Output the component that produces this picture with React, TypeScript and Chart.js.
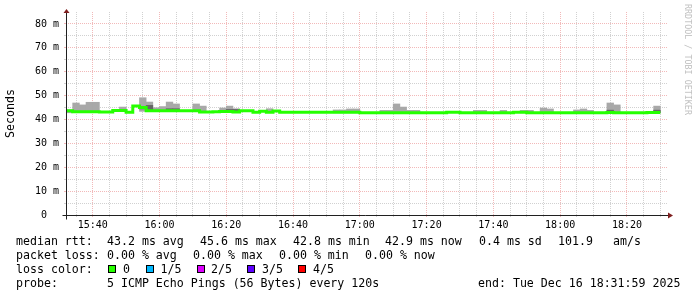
import React, { useEffect, useRef } from 'react';
import { Chart, registerables } from 'chart.js';

Chart.register(...registerables);

// ---- data -----------------------------------------------------------------
const startTime = '15:32';
const windowMinutes = 180;
const binMinutes = 2;

const xTickLabels = ['15:40', '16:00', '16:20', '16:40', '17:00', '17:20', '17:40', '18:00', '18:20'];
const yTickValues = [0, 10, 20, 30, 40, 50, 60, 70, 80];
const yTickLabels = ['0  ', '10 m', '20 m', '30 m', '40 m', '50 m', '60 m', '70 m', '80 m'];

// median rtt per 2-minute bin (ms)
const medianRtt = [
  43.0, 43.6, 43.2, 43.2, 43.2, 43.2, 43.1, 43.1, 43.8, 43.8,
  43.0, 45.6, 45.0, 43.6, 43.6, 43.6, 43.6, 43.6, 43.7, 43.6,
  43.6, 43.1, 43.1, 43.2, 43.3, 43.3, 43.1, 43.6, 43.6, 43.0,
  43.4, 43.0, 43.5, 43.0, 43.0, 43.0, 43.0, 43.0, 43.0, 43.0,
  43.0, 43.0, 43.0, 43.0, 43.0, 42.8, 42.8, 42.8, 42.8, 42.8,
  42.8, 42.8, 42.8, 42.8, 42.8, 42.8, 42.8, 42.8, 43.0, 43.0,
  42.8, 42.8, 42.8, 42.8, 42.8, 42.8, 42.8, 42.8, 43.0, 43.0,
  42.8, 42.8, 42.8, 42.8, 42.8, 42.8, 42.8, 42.8, 42.8, 42.8,
  42.8, 42.8, 42.9, 42.8, 42.8, 42.8, 42.8, 42.8, 42.9,
];

// smoke (min..max ping) per bin (ms), null = hidden by the median line
const smokeLow = [
  42.8, 43.3, 43.0, 43.0, 43.0, null, null, null, 43.5, null,
  null, 43.4, 43.4, 43.3, 43.3, 43.3, 43.3, null, null, 43.3,
  43.3, null, null, 43.0, 43.0, 43.0, null, null, null, null,
  43.1, null, null, null, null, null, null, null, null, null,
  42.8, 42.8, 42.8, 42.8, null, null, null, 42.6, 42.6, 42.6,
  42.6, 42.6, 42.6, null, null, null, null, null, null, null,
  null, 42.6, 42.6, null, null, 42.6, null, null, 42.8, 42.8,
  null, 42.6, 42.6, null, null, null, 42.6, 42.6, 42.6, null,
  null, 42.6, 42.7, null, null, null, null, null, 42.7,
];
const smokeHigh = [
  44.0, 46.9, 46.1, 47.2, 47.2, null, null, null, 45.2, null,
  null, 49.1, 47.3, 44.9, 45.4, 47.3, 46.5, null, null, 46.5,
  45.6, null, null, 44.8, 45.6, 44.5, null, null, null, null,
  44.5, null, null, null, null, null, null, null, null, null,
  44.0, 44.0, 44.4, 44.4, null, null, null, 43.8, 43.8, 46.5,
  45.2, 43.8, 43.8, null, null, null, null, null, null, null,
  null, 43.8, 43.8, null, null, 43.8, null, null, 43.8, 43.8,
  null, 44.8, 44.4, null, null, null, 44.0, 44.4, 43.8, null,
  null, 46.9, 46.1, null, null, null, null, null, 45.6,
];
// darker inner smoke
const innerLow = [
  null, null, null, null, null, null, null, null, null, null,
  null, 44.4, 43.9, null, null, 43.6, 43.6, null, null, null,
  null, null, null, null, 43.3, 43.3, null, null, null, null,
  null, null, null, null, null, null, null, null, null, null,
  null, null, null, null, null, null, null, null, null, null,
  null, null, null, null, null, null, null, null, null, null,
  null, null, null, null, null, null, null, null, null, null,
  null, null, null, null, null, null, null, null, null, null,
  null, 42.8, null, null, null, null, null, null, 42.9,
];
const innerHigh = [
  null, null, null, null, null, null, null, null, null, null,
  null, 45.2, 45.9, null, null, 44.5, 44.5, null, null, null,
  null, null, null, null, 44.2, 44.2, null, null, null, null,
  null, null, null, null, null, null, null, null, null, null,
  null, null, null, null, null, null, null, null, null, null,
  null, null, null, null, null, null, null, null, null, null,
  null, null, null, null, null, null, null, null, null, null,
  null, null, null, null, null, null, null, null, null, null,
  null, 43.9, null, null, null, null, null, null, 43.9,
];

const lossColors = ['#26ff00', '#00b8ff', '#dd00ff', '#5e00ff', '#ff0000'];
const lossLabels = ['0', '1/5', '2/5', '3/5', '4/5'];

// ---- styles ----------------------------------------------------------------
const MONO = "'DejaVu Sans Mono', monospace";
const GRID = 'rgba(140,140,140,0.4)';
const MGRID = 'rgba(222,80,80,0.4)';

const toMin = (s: string) => {
  const [h, m] = s.split(':').map(Number);
  return h * 60 + m;
};

const axisPlugin = {
  id: 'rrdAxes',
  afterDatasetsDraw(chart: any) {
    const { ctx, chartArea: a } = chart;
    ctx.save();
    ctx.strokeStyle = '#202020';
    ctx.lineWidth = 1;
    const x0 = Math.round(a.left) + 0.5;
    const y0 = Math.round(a.bottom) + 0.5;
    ctx.beginPath();
    ctx.moveTo(x0, a.top + 1);
    ctx.lineTo(x0, y0 + 4);
    ctx.moveTo(x0 - 4, y0);
    ctx.lineTo(a.right + 1, y0);
    ctx.stroke();
    ctx.fillStyle = 'rgb(127,31,31)';
    ctx.beginPath();
    ctx.moveTo(x0, a.top - 3);
    ctx.lineTo(x0 - 3, a.top + 1);
    ctx.lineTo(x0 + 3, a.top + 1);
    ctx.closePath();
    ctx.fill();
    ctx.beginPath();
    ctx.moveTo(a.right + 6, y0);
    ctx.lineTo(a.right + 1, y0 - 3);
    ctx.lineTo(a.right + 1, y0 + 3);
    ctx.closePath();
    ctx.fill();
    ctx.restore();
  },
};

function T({ x, base, children, color }: { x: number; base: number; children: any; color?: string }) {
  return (
    <div
      style={{
        position: 'absolute',
        left: x,
        top: base - 11,
        fontFamily: MONO,
        fontSize: '11.6px',
        lineHeight: '14px',
        whiteSpace: 'pre',
        color: color || '#000',
      }}
    >
      {children}
    </div>
  );
}

export default function App() {
  const ref = useRef<HTMLCanvasElement>(null);

  useEffect(() => {
    document.body.style.margin = '0';
    const start = toMin(startTime);
    const end = start + windowMinutes;
    const majors = xTickLabels.map(toMin);
    const n = medianRtt.length;

    const medianPts = medianRtt.map((v, i) => ({ x: start + binMinutes * i, y: v }));
    medianPts.push({ x: start + binMinutes * n, y: medianRtt[n - 1] });

    const smokePts = medianRtt.map((_, i) => ({
      x: start + binMinutes * i + binMinutes / 2,
      y: smokeLow[i] == null ? null : [smokeLow[i], smokeHigh[i]],
    }));
    const innerPts = medianRtt.map((_, i) => ({
      x: start + binMinutes * i + binMinutes / 2,
      y: innerLow[i] == null ? null : [innerLow[i], innerHigh[i]],
    }));

    const chart = new Chart(ref.current as HTMLCanvasElement, {
      type: 'bar',
      data: {
        datasets: [
          {
            type: 'line',
            data: medianPts as any,
            borderColor: lossColors[0],
            borderWidth: 3,
            pointRadius: 0,
            stepped: 'after',
            borderCapStyle: 'butt',
            order: 0,
          } as any,
          {
            type: 'bar',
            data: innerPts as any,
            backgroundColor: '#666666',
            borderWidth: 0,
            barPercentage: 1,
            categoryPercentage: 1,
            grouped: false,
            order: 1,
          } as any,
          {
            type: 'bar',
            data: smokePts as any,
            backgroundColor: '#a8a8a8',
            borderWidth: 0,
            barPercentage: 1,
            categoryPercentage: 1,
            grouped: false,
            order: 2,
          } as any,
        ],
      },
      options: {
        animation: false,
        responsive: false,
        devicePixelRatio: 1,
        layout: { padding: { top: 12, right: 30, bottom: 0, left: 0 } },
        plugins: { legend: { display: false }, tooltip: { enabled: false } },
        scales: {
          x: {
            type: 'linear',
            min: start,
            max: end,
            offset: false,
            afterBuildTicks: (scale: any) => {
              const t = [];
              for (let v = Math.ceil(start / 5) * 5; v <= end; v += 5) t.push({ value: v });
              scale.ticks = t;
            },
            afterFit: (scale: any) => {
              scale.height = 82;
            },
            ticks: {
              autoSkip: false,
              maxRotation: 0,
              padding: 2,
              color: '#000',
              font: { family: MONO, size: 10 },
              callback: (v: any) => {
                const i = majors.indexOf(Number(v));
                return i >= 0 ? xTickLabels[i] : '';
              },
            },
            grid: {
              offset: false,
              color: (c: any) => (majors.includes(c.tick?.value) ? MGRID : GRID),
              tickColor: (c: any) => (majors.includes(c.tick?.value) ? MGRID : GRID),
              tickLength: 2,
              drawTicks: true,
            } as any,
            border: { display: false, dash: [1, 1] },
          },
          y: {
            type: 'linear',
            min: 0,
            max: 85,
            afterFit: (scale: any) => {
              scale.width = 66;
            },
            ticks: {
              stepSize: 5,
              autoSkip: false,
              padding: 5,
              color: '#000',
              font: { family: MONO, size: 10 },
              callback: (v: any) => {
                const i = yTickValues.indexOf(Number(v));
                return i >= 0 ? yTickLabels[i] : '';
              },
            },
            grid: {
              offset: false,
              color: (c: any) => {
                const v = c.tick?.value;
                if (v === 0 || v === 85) return 'rgba(0,0,0,0)';
                return v % 10 === 0 ? MGRID : GRID;
              },
              tickColor: (c: any) => {
                const v = c.tick?.value;
                if (v === 85) return 'rgba(0,0,0,0)';
                return v % 10 === 0 ? MGRID : GRID;
              },
              tickLength: 2,
              drawTicks: true,
            },
            border: { display: false, dash: [1, 1] },
            title: {
              display: true,
              text: 'Seconds',
              color: '#000',
              font: { family: MONO, size: 11.6 },
              padding: { top: 4, bottom: 0 },
            },
          },
        },
      } as any,
      plugins: [axisPlugin],
    });
    return () => chart.destroy();
  }, []);

  const boxX = [108, 145.5, 196.5, 247, 297.5];
  const labX = [123, 160.5, 211, 262, 313];

  return (
    <div style={{ position: 'relative', width: 697, height: 297, background: '#fff', overflow: 'hidden' }}>
      <canvas ref={ref} width={697} height={297} style={{ display: 'block', width: 697, height: 297 }} />
      <T x={16} base={245}>median rtt:</T>
      <T x={107} base={245}>43.2 ms avg</T>
      <T x={200} base={245}>45.6 ms max</T>
      <T x={293} base={245}>42.8 ms min</T>
      <T x={385} base={245}>42.9 ms now</T>
      <T x={479} base={245}>0.4 ms sd</T>
      <T x={558} base={245}>101.9</T>
      <T x={613} base={245}>am/s</T>

      <T x={16} base={259}>packet loss:</T>
      <T x={107} base={259}>0.00 % avg</T>
      <T x={193} base={259}>0.00 % max</T>
      <T x={279} base={259}>0.00 % min</T>
      <T x={365} base={259}>0.00 % now</T>

      <T x={16} base={273}>loss color:</T>
      {lossColors.map((c, i) => (
        <div
          key={c}
          style={{
            position: 'absolute',
            left: boxX[i],
            top: 265,
            width: 8,
            height: 8,
            boxSizing: 'border-box',
            border: '1px solid #000',
            background: c,
          }}
        />
      ))}
      {lossLabels.map((l, i) => (
        <T key={l} x={labX[i]} base={273}>
          {l}
        </T>
      ))}

      <T x={16} base={287}>probe:</T>
      <T x={107} base={287}>5 ICMP Echo Pings (56 Bytes) every 120s</T>
      <T x={478} base={287}>end: Tue Dec 16 18:31:59 2025</T>

      <div
        style={{
          position: 'absolute',
          left: 692.5,
          top: 4,
          transformOrigin: '0 0',
          transform: 'rotate(90deg)',
          fontFamily: MONO,
          fontSize: '8.4px',
          lineHeight: '10px',
          whiteSpace: 'pre',
          color: '#c0c0c0',
        }}
      >
        RRDTOOL / TOBI OETIKER
      </div>
    </div>
  );
}
